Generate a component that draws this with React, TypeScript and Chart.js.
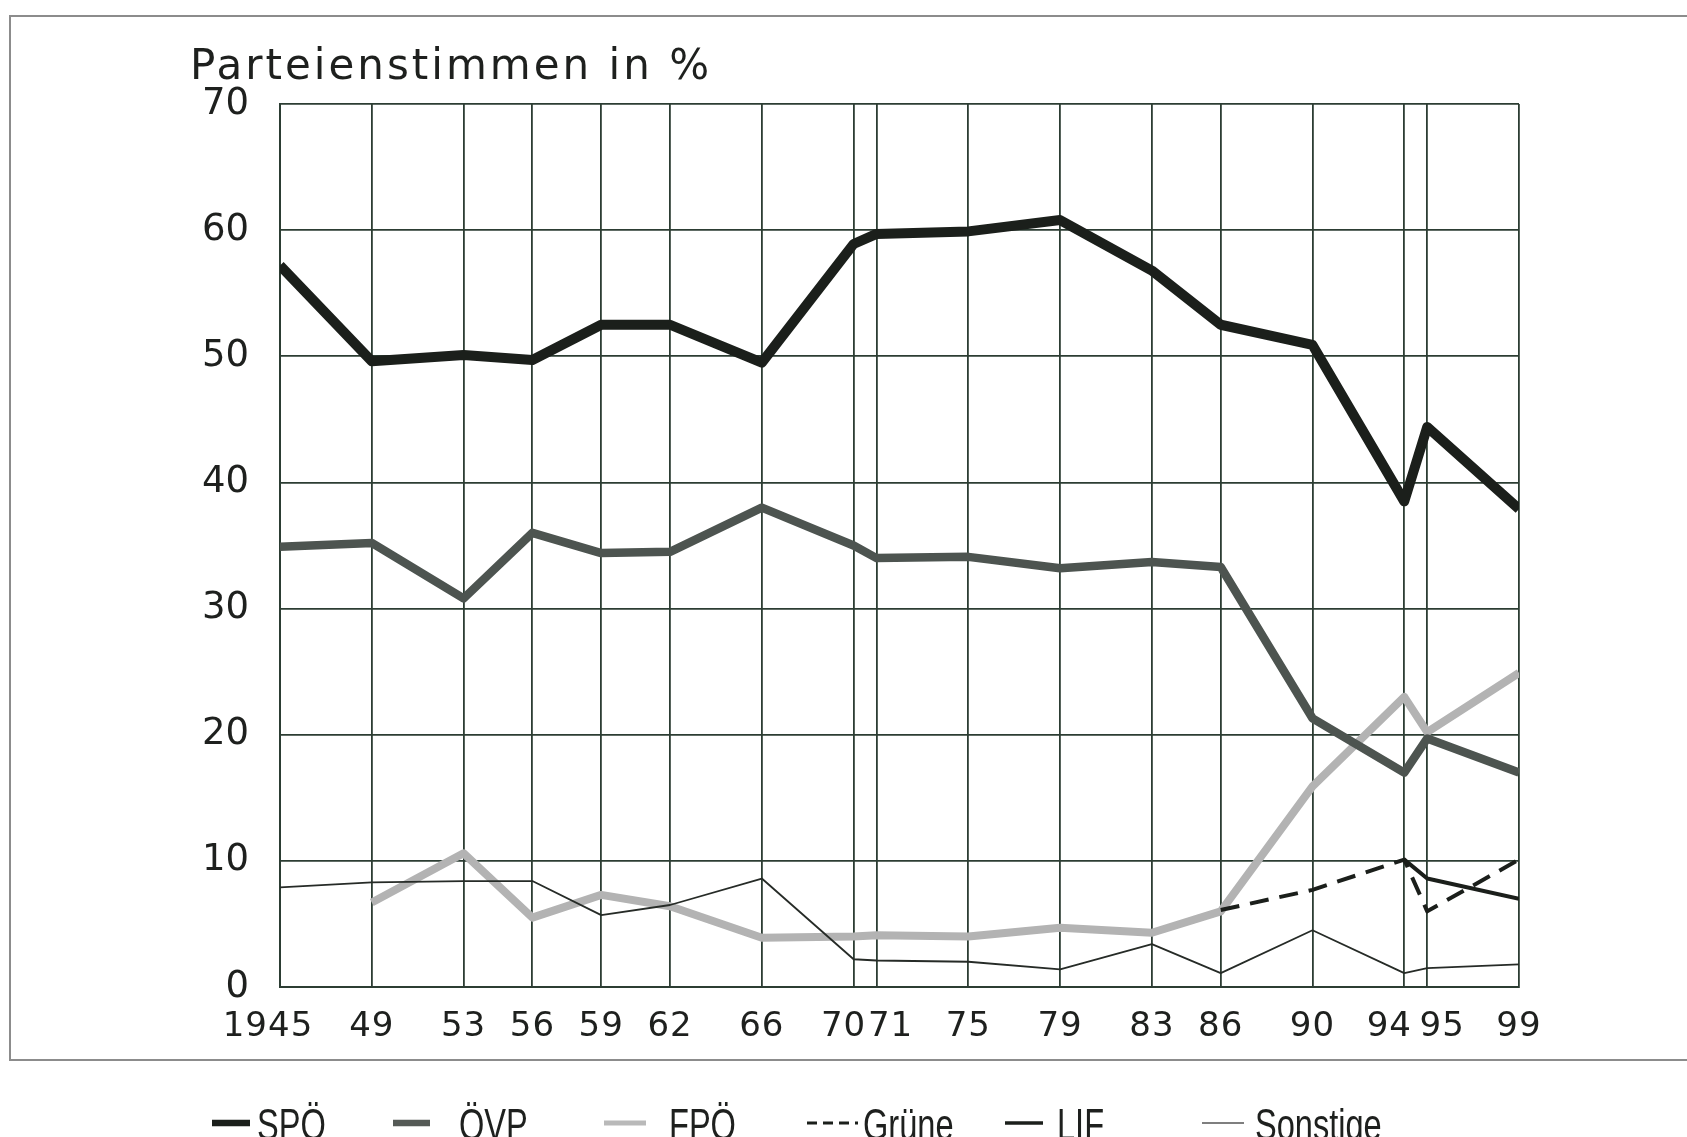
import React, { useEffect, useRef } from "react";
import { Chart, registerables } from "chart.js";

Chart.register(...registerables);

const years = [1945, 1949, 1953, 1956, 1959, 1962, 1966, 1970, 1971, 1975, 1979, 1983, 1986, 1990, 1994, 1995, 1999];
const yearLabels = ["1945", "49", "53", "56", "59", "62", "66", "70", "71", "75", "79", "83", "86", "90", "94", "95", "99"];
const yTicks = [0, 10, 20, 30, 40, 50, 60, 70];

const spo = [57.2, 49.6, 50.1, 49.7, 52.5, 52.5, 49.5, 58.9, 59.7, 59.9, 60.8, 56.8, 52.5, 50.9, 38.5, 44.4, 37.9];
const ovp = [34.9, 35.2, 30.8, 36.0, 34.4, 34.5, 38.0, 35.0, 34.0, 34.1, 33.2, 33.7, 33.3, 21.3, 17.0, 19.7, 17.0];
const fpo = [null, 6.7, 10.6, 5.5, 7.3, 6.4, 3.9, 4.0, 4.1, 4.0, 4.7, 4.3, 6.0, 15.9, 23.0, 20.2, 24.9];
const gruene = [null, null, null, null, null, null, null, null, null, null, null, null, 6.1, 7.7, 10.1, 6.0, 10.1];
const lif = [null, null, null, null, null, null, null, null, null, null, null, null, null, null, 10.1, 8.6, 7.0];
const sonstige = [7.9, 8.3, 8.4, 8.4, 5.7, 6.5, 8.6, 2.2, 2.1, 2.0, 1.4, 3.4, 1.1, 4.5, 1.1, 1.5, 1.8];

const seriesNames = ["SPÖ", "ÖVP", "FPÖ", "Grüne", "LIF", "Sonstige"];

const GRID = "#2c3d33";
const TEXT = "#1e201e";

function pts(vals: (number | null)[]) {
  return years.map((x, i) => ({ x, y: vals[i] }));
}

const labelOffsets: Record<number, number> = { 1945: -12, 1970: -10, 1971: 14, 1994: -15, 1995: 15 };

const decorPlugin = {
  id: "decor",
  beforeDraw(chart: any) {
    const ctx = chart.ctx;
    ctx.save();
    ctx.strokeStyle = "#8c8c8c";
    ctx.lineWidth = 2;
    ctx.beginPath();
    ctx.moveTo(1687, 16);
    ctx.lineTo(10, 16);
    ctx.lineTo(10, 1060);
    ctx.lineTo(1687, 1060);
    ctx.stroke();
    ctx.restore();
  },
  afterDraw(chart: any) {
    const ctx = chart.ctx;
    ctx.save();
    // title
    ctx.fillStyle = TEXT;
    ctx.font = "42px 'DejaVu Sans'";
    (ctx as any).letterSpacing = "3px";
    ctx.textAlign = "left";
    ctx.textBaseline = "alphabetic";
    ctx.fillText("Parteienstimmen in %", 190, 79);

    // x labels
    const xs = chart.scales.x;
    ctx.font = "34px 'DejaVu Sans'";
    (ctx as any).letterSpacing = "1px";
    ctx.textAlign = "center";
    ctx.textBaseline = "middle";
    years.forEach((yr, i) => {
      const px = xs.getPixelForValue(yr) + (labelOffsets[yr] || 0);
      ctx.fillText(yearLabels[i], px, 1027);
    });

    // legend
    (ctx as any).letterSpacing = "0px";
    const items = [
      { ds: 0, x1: 212, x2: 250, tx: 257 },
      { ds: 1, x1: 393, x2: 430, tx: 459 },
      { ds: 2, x1: 604, x2: 646, tx: 669 },
      { ds: 3, x1: 807, x2: 858, tx: 863 },
      { ds: 4, x1: 1005, x2: 1043, tx: 1057 },
      { ds: 5, x1: 1202, x2: 1244, tx: 1255 },
    ];
    const legendWidths = [6.5, 6.5, 5, 3, 3.5, 1.6];
    const legendColors = ["#1b1f1b", "#555a56", "#b9b9b9", "#1b1f1b", "#1b1f1b", "#555"];
    items.forEach((it, k) => {
      const ds = chart.data.datasets[it.ds];
      ctx.strokeStyle = legendColors[k];
      ctx.lineWidth = legendWidths[k];
      ctx.setLineDash(ds.borderDash && ds.borderDash.length ? [10, 6] : []);
      ctx.beginPath();
      ctx.moveTo(it.x1, 1123);
      ctx.lineTo(it.x2, 1123);
      ctx.stroke();
      ctx.setLineDash([]);
      ctx.fillStyle = TEXT;
      ctx.font = "44px 'Liberation Sans'";
      ctx.textAlign = "left";
      ctx.textBaseline = "alphabetic";
      ctx.save();
      ctx.translate(it.tx, 1140);
      ctx.scale(0.74, 1);
      ctx.fillText(ds.label, 0, 0);
      ctx.restore();
    });
    ctx.restore();
  },
};

export default function App() {
  const ref = useRef<HTMLCanvasElement | null>(null);
  useEffect(() => {
    if (!ref.current) return;
    const chart = new Chart(ref.current, {
      type: "line",
      data: {
        datasets: [
          { label: seriesNames[0], data: pts(spo), borderColor: "#1b1f1b", borderWidth: 10, order: 3 },
          { label: seriesNames[1], data: pts(ovp), borderColor: "#4d5450", borderWidth: 8.5, order: 4 },
          { label: seriesNames[2], data: pts(fpo), borderColor: "#b3b3b3", borderWidth: 8, order: 5 },
          { label: seriesNames[3], data: pts(gruene), borderColor: "#1b1f1b", borderWidth: 4, borderDash: [19, 11], order: 1 },
          { label: seriesNames[4], data: pts(lif), borderColor: "#1b1f1b", borderWidth: 4, order: 0 },
          { label: seriesNames[5], data: pts(sonstige), borderColor: "#262b27", borderWidth: 1.8, order: 2 },
        ].map((d: any) => ({
          ...d,
          pointRadius: 0,
          pointHoverRadius: 0,
          tension: 0,
          fill: false,
          spanGaps: false,
          borderJoinStyle: "round",
          borderCapStyle: "butt",
        })),
      },
      options: {
        animation: false,
        responsive: false,
        devicePixelRatio: 1,
        parsing: { xAxisKey: "x", yAxisKey: "y" },
        layout: { padding: { left: 0, top: 104, right: 168, bottom: 70 } },
        plugins: {
          legend: { display: false },
          title: { display: false },
          tooltip: { enabled: false },
        },
        scales: {
          x: {
            type: "linear",
            min: 1945,
            max: 1999,
            afterBuildTicks: (s: any) => {
              s.ticks = years.map((v) => ({ value: v }));
            },
            afterFit: (s: any) => {
              s.height = 80;
            },
            grid: { color: GRID, lineWidth: 1.8, drawTicks: false },
            border: { color: GRID, width: 2 },
            ticks: { display: false },
          },
          y: {
            min: 0,
            max: 70,
            afterBuildTicks: (s: any) => {
              s.ticks = yTicks.map((v) => ({ value: v }));
            },
            afterFit: (s: any) => {
              s.width = 280;
            },
            grid: { color: GRID, lineWidth: 1.8, drawTicks: false },
            border: { color: GRID, width: 2 },
            ticks: {
              padding: 31,
              color: TEXT,
              font: { family: "'DejaVu Sans'", size: 37 },
              callback: (v: any) => String(v),
            },
          },
        },
      },
      plugins: [decorPlugin],
    });
    return () => chart.destroy();
  }, []);
  return (
    <div style={{ position: "fixed", left: 0, top: 0, width: 1687, height: 1137, background: "#fff" }}>
      <canvas ref={ref} width={1687} height={1137} style={{ display: "block", width: 1687, height: 1137 }} />
    </div>
  );
}
